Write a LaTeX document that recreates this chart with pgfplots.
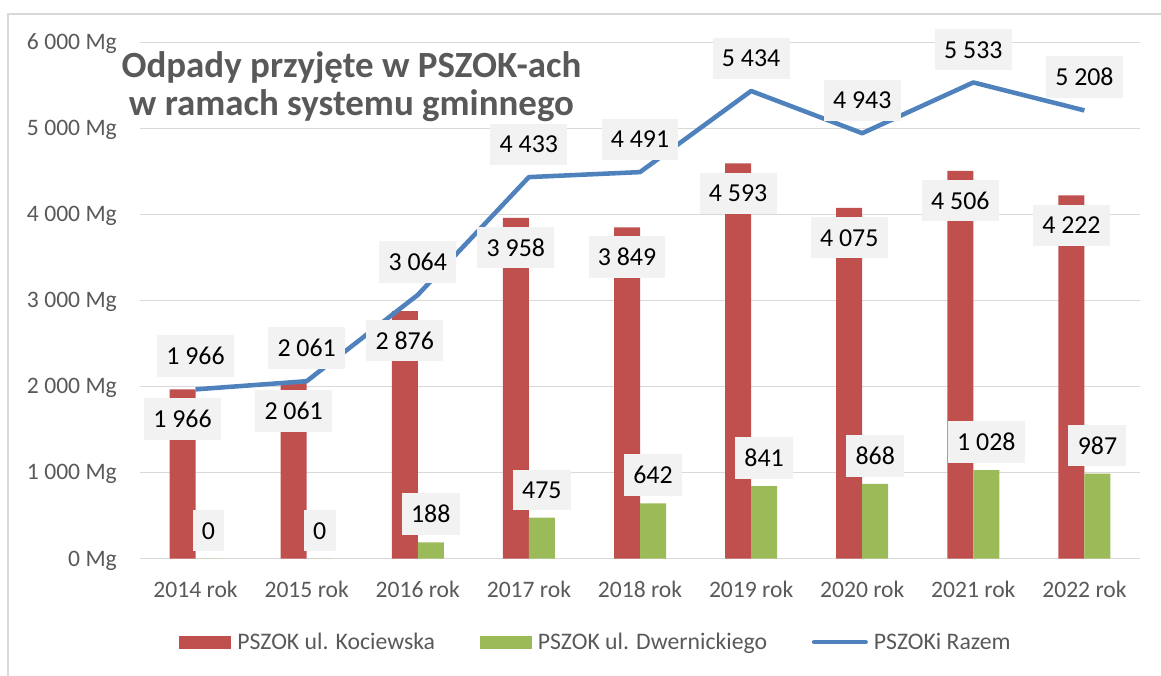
\documentclass[border=0pt]{standalone}
\usepackage{fontspec}
\setmainfont{Carlito}
\usepackage{pgfplots}
\pgfplotsset{compat=1.18}

\definecolor{cRed}{HTML}{C0504D}
\definecolor{cGreen}{HTML}{9BBB59}
\definecolor{cBlue}{HTML}{4F81BD}
\definecolor{cGrid}{HTML}{D9D9D9}
\definecolor{cText}{HTML}{595959}
\definecolor{cLab}{HTML}{F2F2F2}

\tikzset{lab/.style={font=\fontsize{19.4pt}{22pt}\selectfont, fill=cLab, text=black, inner xsep=7pt, inner ysep=9pt}}

\begin{document}
\begin{tikzpicture}
\path[use as bounding box] (-105pt,-87.5pt) rectangle (765.75pt,418.9pt);
\draw[cGrid, line width=1.1pt] (-99pt,-150pt) rectangle (850pt,408.4pt);
\begin{axis}[
    scale only axis,
    width=750pt, height=387.2pt,
    xmin=-0.5, xmax=8.5,
    ymin=0, ymax=6000,
    axis lines=left,
    axis line style={draw=none},
    major tick length=0pt,
    xtick={0,1,2,3,4,5,6,7,8},
    xticklabels={2014 rok,2015 rok,2016 rok,2017 rok,2018 rok,2019 rok,2020 rok,2021 rok,2022 rok},
    ytick={0,1000,2000,3000,4000,5000,6000},
    scaled y ticks=false,
    yticklabel={\pgfmathprintnumber{\tick}\ Mg},
    ymajorgrids,
    major grid style={draw=cGrid, line width=1pt},
    tick label style={font=\fontsize{17.7pt}{20pt}\selectfont, text=cText},
    xticklabel style={anchor=base, inner sep=0pt, yshift=-29.5pt},
    yticklabel style={anchor=base east, inner sep=0pt, xshift=-17.2pt, yshift=-5.6pt},
    /pgf/number format/assume math mode=true,
    /pgf/number format/1000 sep={\ },
    /pgf/number format/fixed,
    /pgf/number format/precision=0,
    title={Odpady przyjęte w PSZOK-ach\\w ramach systemu gminnego},
    title style={at={(axis description cs:0.2115,0.967)}, anchor=north, align=center,
        inner sep=0pt, font=\fontsize{27.7pt}{28.3pt}\selectfont\bfseries, text=cText},
    legend columns=3,
    legend style={at={(axis description cs:0.039,-0.162)}, anchor=west,
        draw=none, fill=none, inner sep=0pt,
        font=\fontsize{17.8pt}{20pt}\selectfont, text=cText,
        nodes={inner sep=0pt},
        /tikz/every odd column/.append style={column sep=4.5pt},
        /tikz/every even column/.append style={column sep=33.5pt},
        /tikz/column 5/.style={column sep=1.5pt}},
    ]

    % PSZOK ul. Kociewska
    \addplot[ybar, bar width=0.234, bar shift=-0.117, fill=cRed, draw=none,
        legend image code/.code={\fill[cRed] (0pt,-4.9pt) rectangle (39pt,4.9pt);}]
        coordinates {(0,1966) (1,2061) (2,2876) (3,3958) (4,3849) (5,4593) (6,4075) (7,4506) (8,4222)};

    % PSZOK ul. Dwernickiego
    \addplot[ybar, bar width=0.234, bar shift=0.117, fill=cGreen, draw=none,
        legend image code/.code={\fill[cGreen] (0pt,-4.9pt) rectangle (39pt,4.9pt);}]
        coordinates {(0,0) (1,0) (2,188) (3,475) (4,642) (5,841) (6,868) (7,1028) (8,987)};

    % PSZOKi Razem
    \addplot[cBlue, line width=3.4pt, line join=round, mark=none,
        legend image code/.code={\draw[cBlue, line width=3.4pt, line cap=round] (1.7pt,0pt) -- (40.3pt,0pt);}]
        coordinates {(0,1966) (1,2061) (2,3064) (3,4433) (4,4491) (5,5434) (6,4943) (7,5533) (8,5208)};

    % data labels, drawn on top
    \addplot[forget plot, ybar, bar width=0.234, bar shift=-0.117, draw=none, fill=none,
        nodes near coords, every node near coord/.append style={lab, xshift=-9.75pt, yshift=-38pt}]
        coordinates {(0,1966) (1,2061) (2,2876) (3,3958) (4,3849) (5,4593) (6,4075) (7,4506) (8,4222)};
    \addplot[forget plot, ybar, bar width=0.234, bar shift=0.117, draw=none, fill=none,
        nodes near coords, every node near coord/.append style={lab, xshift=9.75pt, yshift=5.2pt}]
        coordinates {(0,0) (1,0) (2,188) (3,475) (4,642) (5,841) (6,868) (7,1028) (8,987)};
    \addplot[forget plot, draw=none, mark=none,
        nodes near coords, every node near coord/.append style={lab, yshift=9pt}]
        coordinates {(0,1966) (1,2061) (2,3064) (3,4433) (4,4491) (5,5434) (6,4943) (7,5533) (8,5208)};

    \legend{PSZOK ul. Kociewska, PSZOK ul. Dwernickiego, PSZOKi Razem}
\end{axis}
\end{tikzpicture}
\end{document}
